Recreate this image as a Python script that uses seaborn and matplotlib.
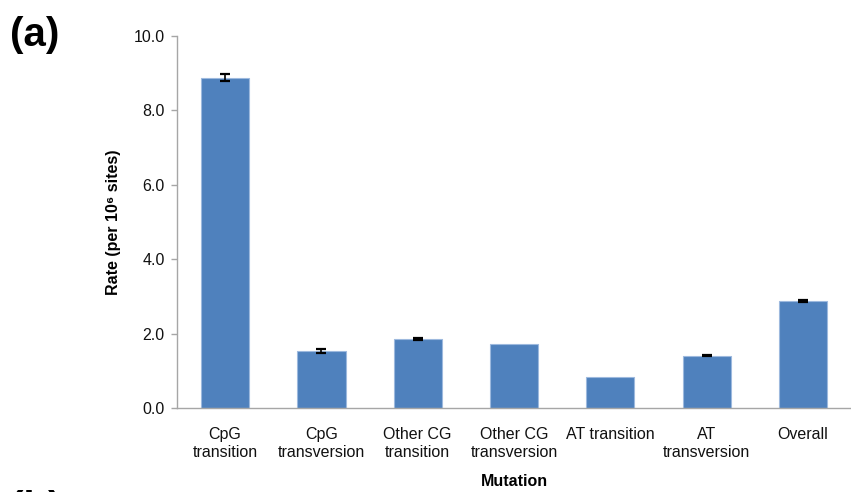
import matplotlib
matplotlib.use("Agg")
import matplotlib.pyplot as plt
import seaborn as sns
import pandas as pd

# Mutation rate categories and values (per 10^6 sites)
categories = ["CpG\ntransition", "CpG\ntransversion", "Other CG\ntransition",
              "Other CG\ntransversion", "AT transition", "AT\ntransversion", "Overall"]
rates = [8.88, 1.53, 1.86, 1.71, 0.83, 1.41, 2.88]
errors = [0.10, 0.05, 0.02, 0.0, 0.0, 0.02, 0.02]
yticks = [0.0, 2.0, 4.0, 6.0, 8.0, 10.0]

sns.set_theme(style="white")
plt.rcParams["font.family"] = ["Liberation Sans", "DejaVu Sans"]
plt.rcParams["text.color"] = "black"

df = pd.DataFrame({"Mutation": categories, "Rate": rates})

fig = plt.figure(figsize=(8.51, 4.92), dpi=100)
ax = fig.add_axes([0.208, 0.1707, 0.792, 0.7561])

bar_color = "#4F81BD"
sns.barplot(data=df, x="Mutation", y="Rate", color=bar_color, saturation=1,
            width=0.5, edgecolor="#9DB9DE", linewidth=0.8, errorbar=None, ax=ax)

# error bars only where there is a spread
for i, (v, e) in enumerate(zip(rates, errors)):
    if e > 0:
        ax.errorbar(i, v, yerr=e, fmt="none", ecolor="black", elinewidth=1.2,
                    capsize=3.5, capthick=1.6, zorder=5)

ax.set_xlim(-0.5, len(categories) - 0.5)
ax.set_ylim(0, 10)
ax.set_yticks(yticks)
ax.set_yticklabels([f"{t:.1f}" for t in yticks])

for side in ("top", "right"):
    ax.spines[side].set_visible(False)
for side in ("left", "bottom"):
    ax.spines[side].set_color("#A6A6A6")
    ax.spines[side].set_linewidth(1.0)

ax.tick_params(axis="y", which="major", left=True, length=4, width=1.0,
               color="#A6A6A6", pad=5, labelsize=11.5, labelcolor="#111111")
ax.tick_params(axis="x", length=0, pad=14, labelsize=11.5, labelcolor="#111111")

ax.set_xlabel("Mutation", fontsize=11.5, fontweight="bold", labelpad=10, color="black")
ax.set_ylabel("Rate (per 10\u2076 sites)", fontsize=11.5, fontweight="bold", labelpad=9,
              color="black")

fig.text(0.012, 0.928, "(a)", fontsize=29, fontweight="bold", va="center", ha="left",
         color="black")
fig.text(0.012, -0.035, "(b)", fontsize=29, fontweight="bold", va="center", ha="left",
         color="black")

fig.savefig("out.png", dpi=100)
